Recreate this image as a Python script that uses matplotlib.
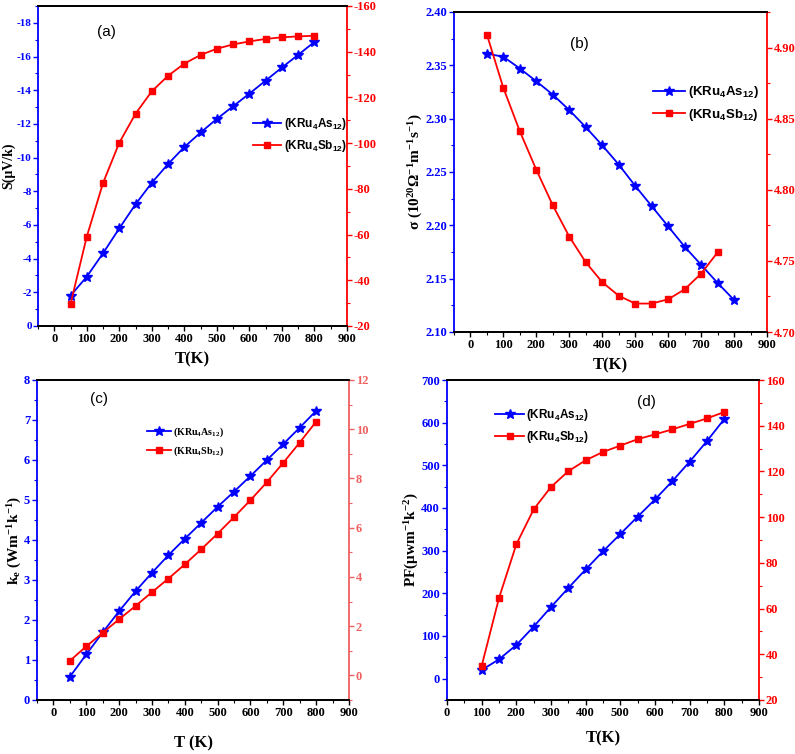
import numpy as np
import matplotlib
matplotlib.use('Agg')
from matplotlib import pyplot as plt
from matplotlib.ticker import MultipleLocator

plt.rcParams['font.family'] = 'Liberation Serif'
plt.rcParams['font.weight'] = 'bold'
plt.rcParams['axes.labelweight'] = 'bold'
plt.rcParams['mathtext.default'] = 'regular'
plt.rcParams['axes.unicode_minus'] = False

# temperatures (K)
T = [50, 100, 150, 200, 250, 300, 350, 400, 450, 500, 550, 600, 650, 700, 750, 800]
T_b_sb = T[:-1]
T_d = T[1:]

# (a) Seebeck coefficient
S_as = [-1.8, -2.93, -4.32, -5.8, -7.23, -8.51, -9.62, -10.63, -11.49, -12.3,
        -13.05, -13.8, -14.57, -15.35, -16.1, -16.87]
S_sb = [-29.6, -59.1, -82.6, -100.2, -112.9, -122.7, -129.5, -134.8, -138.6,
        -141.3, -143.2, -144.5, -145.6, -146.3, -146.7, -147.0]

# (b) electrical conductivity
sig_as = [2.361, 2.358, 2.347, 2.335, 2.3225, 2.308, 2.292, 2.275, 2.257, 2.237,
          2.218, 2.199, 2.180, 2.163, 2.146, 2.130]
sig_sb = [4.909, 4.8715, 4.841, 4.814, 4.789, 4.767, 4.749, 4.735, 4.7255, 4.720,
          4.720, 4.723, 4.730, 4.741, 4.756]

# (c) electronic thermal conductivity
ke_as = [0.58, 1.14, 1.69, 2.22, 2.72, 3.18, 3.62, 4.03, 4.43, 4.83, 5.21, 5.6,
         6.0, 6.4, 6.81, 7.23]
ke_sb = [0.59, 1.18, 1.73, 2.28, 2.82, 3.38, 3.93, 4.51, 5.12, 5.76, 6.43, 7.12,
         7.85, 8.64, 9.46, 10.31]

# (d) power factor
pf_as = [20.3, 45.3, 78.9, 121.9, 168, 212.5, 256, 298.4, 339, 379.7, 420, 463,
         508.6, 557, 608.6]
pf_sb = [34.9, 64.6, 88.1, 103.4, 113.2, 120.1, 124.9, 128.5, 131.3, 134.1,
         136.2, 138.4, 140.8, 143.2, 146.0]

lab_as = '(KRu$_4$As$_{12}$)'
lab_sb = '(KRu$_4$Sb$_{12}$)'

W, H = 795, 754
fig = plt.figure(figsize=(W / 100, H / 100), dpi=100)


def make_axes(x0, y0, x1, y1):
    return fig.add_axes([x0 / W, 1 - y1 / H, (x1 - x0) / W, (y1 - y0) / H])


def style(ax, ax2, rcol='red'):
    ax.spines['left'].set_color('blue')
    ax.spines['right'].set_visible(False)
    ax2.spines['left'].set_visible(False)
    ax2.spines['right'].set_color(rcol)
    ax.tick_params(axis='y', which='both', colors='blue', direction='out')
    ax2.tick_params(axis='y', which='both', colors=rcol, direction='out')
    ax.tick_params(axis='x', which='both', direction='out')
    for a in (ax, ax2):
        a.tick_params(which='major', length=3.5, width=1, pad=1.5, labelsize=9)
        a.tick_params(which='minor', length=2, width=0.8)
        for s in ['left', 'right', 'top', 'bottom']:
            a.spines[s].set_linewidth(1.3)
    ax.xaxis.set_major_locator(MultipleLocator(100))
    ax.xaxis.set_minor_locator(MultipleLocator(50))


def draw(ax, ax2, x1, y1, x2, y2):
    l1, = ax.plot(x1, y1, color='blue', marker='*', markersize=7, linewidth=1.3,
                  label=lab_as)
    l2, = ax2.plot(x2, y2, color='red', marker='s', markersize=5, linewidth=1.3,
                   label=lab_sb)
    return [l1, l2]


def add_legend(ax, h, anchor, family, size):
    ax.legend(h, [lab_as, lab_sb], loc='upper left', bbox_to_anchor=anchor,
              frameon=False, prop={'family': family, 'weight': 'bold', 'size': size},
              handlelength=2.4, handletextpad=0.2, borderaxespad=0, labelspacing=0.5)


# (a)
ax = make_axes(38, 6, 347, 326)
ax2 = ax.twinx()
h = draw(ax, ax2, T, S_as, T, S_sb)
ax.set_xlim(-50, 900)
ax.set_ylim(0, -19)
ax2.set_ylim(-20, -160)
ax.yaxis.set_major_locator(MultipleLocator(2))
ax.yaxis.set_minor_locator(MultipleLocator(1))
ax2.yaxis.set_major_locator(MultipleLocator(20))
ax2.yaxis.set_minor_locator(MultipleLocator(10))
style(ax, ax2)
ax.tick_params(axis='y', labelsize=8, pad=1)
ax.set_xlabel('T(K)', fontsize=12, labelpad=5)
ax.set_ylabel('S(μV/k)', fontsize=10, labelpad=1)
ax.text(0.22, 0.92, '(a)', transform=ax.transAxes, ha='center', va='center',
        family='Liberation Sans', fontweight='normal', fontsize=11)
add_legend(ax, h, (0.68, 0.67), 'Liberation Sans', 8.5)

# (b)
ax = make_axes(454, 12, 767, 332)
ax2 = ax.twinx()
h = draw(ax, ax2, T, sig_as, T_b_sb, sig_sb)
ax.set_xlim(-50, 900)
ax.set_ylim(2.10, 2.40)
ax2.set_ylim(4.70, 4.925)
ax.yaxis.set_major_locator(MultipleLocator(0.05))
ax.yaxis.set_minor_locator(MultipleLocator(0.025))
ax2.yaxis.set_major_locator(MultipleLocator(0.05))
ax2.yaxis.set_minor_locator(MultipleLocator(0.025))
ax.yaxis.set_major_formatter('{x:.2f}')
ax2.yaxis.set_major_formatter('{x:.2f}')
style(ax, ax2)
ax.set_xlabel('T(K)', fontsize=12, labelpad=5)
ax.set_ylabel('σ (10$^{20}$Ω$^{-1}$m$^{-1}$s$^{-1}$)', fontsize=11, labelpad=0)
ax.text(0.4, 0.9, '(b)', transform=ax.transAxes, ha='center', va='center',
        family='Liberation Sans', fontweight='normal', fontsize=11)
add_legend(ax, h, (0.62, 0.79), 'Liberation Sans', 9.5)

# (c)
ax = make_axes(37, 380, 349, 700)
ax2 = ax.twinx()
h = draw(ax, ax2, T, ke_as, T, ke_sb)
ax.set_xlim(-50, 900)
ax.set_ylim(0, 8)
ax2.set_ylim(-1, 12)
ax.yaxis.set_major_locator(MultipleLocator(1))
ax.yaxis.set_minor_locator(MultipleLocator(0.5))
ax2.yaxis.set_major_locator(MultipleLocator(2))
ax2.yaxis.set_minor_locator(MultipleLocator(1))
style(ax, ax2, rcol='#f06060')
ax.set_xlabel('T (K)', fontsize=12, labelpad=12)
ax.set_ylabel('k$_e$ (Wm$^{-1}$k$^{-1}$)', fontsize=11, labelpad=0)
ax.text(0.2, 0.94, '(c)', transform=ax.transAxes, ha='center', va='center',
        family='Liberation Sans', fontweight='normal', fontsize=11)
add_legend(ax, h, (0.34, 0.87), 'Liberation Serif', 7.2)

# (d)
ax = make_axes(447, 380, 759, 700)
ax2 = ax.twinx()
h = draw(ax, ax2, T_d, pf_as, T_d, pf_sb)
ax.set_xlim(0, 900)
ax.set_ylim(-50, 700)
ax2.set_ylim(20, 160)
ax.yaxis.set_major_locator(MultipleLocator(100))
ax.yaxis.set_minor_locator(MultipleLocator(50))
ax2.yaxis.set_major_locator(MultipleLocator(20))
ax2.yaxis.set_minor_locator(MultipleLocator(10))
style(ax, ax2)
ax.set_xlabel('T(K)', fontsize=12, labelpad=8)
ax.set_ylabel('PF(μwm$^{-1}$k$^{-2}$)', fontsize=11, labelpad=0)
ax.text(0.64, 0.93, '(d)', transform=ax.transAxes, ha='center', va='center',
        family='Liberation Sans', fontweight='normal', fontsize=11)
add_legend(ax, h, (0.14, 0.93), 'Liberation Sans', 8.5)

fig.savefig('out.png', dpi=100)
